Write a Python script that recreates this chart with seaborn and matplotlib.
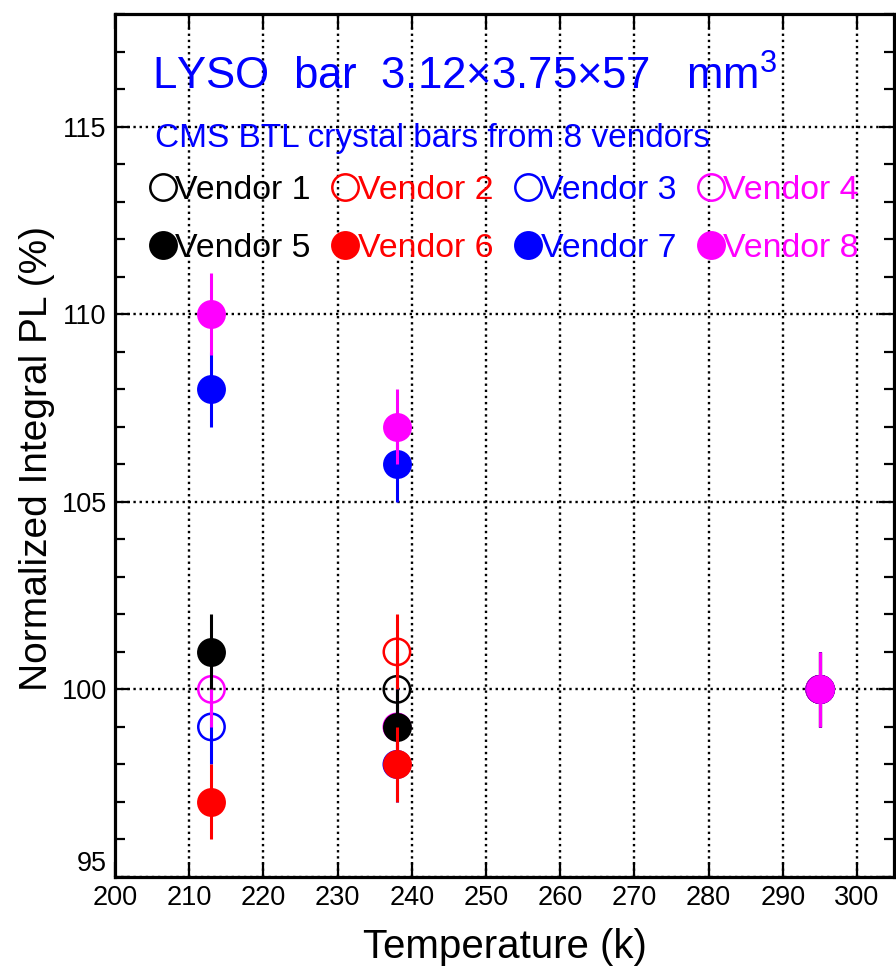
import numpy as np
import pandas as pd
import matplotlib
matplotlib.use("Agg")
import matplotlib.pyplot as plt
import seaborn as sns
from matplotlib.lines import Line2D
from matplotlib.ticker import MultipleLocator

# Measurement temperatures (K)
temperatures = [213, 238, 295]

# Normalized integral PL (%) for each vendor at each temperature
pl_vendor1 = [np.nan, 100, 100]
pl_vendor2 = [np.nan, 101, 100]
pl_vendor3 = [99, 98, 100]
pl_vendor4 = [100, 99, 100]
pl_vendor5 = [101, 99, 100]
pl_vendor6 = [97, 98, 100]
pl_vendor7 = [108, 106, 100]
pl_vendor8 = [110, 107, 100]

# Uncertainties (%)
err_vendor1 = [1, 1, 1]
err_vendor2 = [1, 1, 1]
err_vendor3 = [1, 1, 1]
err_vendor4 = [1, 1, 1]
err_vendor5 = [1, 1, 1]
err_vendor6 = [1, 1, 1]
err_vendor7 = [1, 1, 1]
err_vendor8 = [1.1, 1, 1]

vendor_names = ["Vendor 1", "Vendor 2", "Vendor 3", "Vendor 4",
                "Vendor 5", "Vendor 6", "Vendor 7", "Vendor 8"]
vendor_colors = ["black", "#ff0000", "#0000ff", "#ff00ff",
                 "black", "#ff0000", "#0000ff", "#ff00ff"]
vendor_filled = [False, False, False, False, True, True, True, True]

pl_values = [pl_vendor1, pl_vendor2, pl_vendor3, pl_vendor4,
             pl_vendor5, pl_vendor6, pl_vendor7, pl_vendor8]
pl_errors = [err_vendor1, err_vendor2, err_vendor3, err_vendor4,
             err_vendor5, err_vendor6, err_vendor7, err_vendor8]

rows = []
for name, vals, errs in zip(vendor_names, pl_values, pl_errors):
    for t, v, e in zip(temperatures, vals, errs):
        rows.append({"vendor": name, "T": t, "PL": v, "err": e})
df = pd.DataFrame(rows).dropna()

sns.set_style("ticks")
plt.rcParams["font.family"] = ["Liberation Sans", "DejaVu Sans"]
plt.rcParams["mathtext.fontset"] = "custom"
plt.rcParams["mathtext.rm"] = "Liberation Sans"
plt.rcParams["mathtext.it"] = "Liberation Sans"
plt.rcParams["text.color"] = "black"
plt.rcParams["axes.labelcolor"] = "black"
plt.rcParams["xtick.color"] = "black"
plt.rcParams["ytick.color"] = "black"

fig = plt.figure(figsize=(8.96, 9.67), dpi=100)
ax = fig.add_axes([115 / 896, 1 - 877 / 967, (894 - 115) / 896, (877 - 14) / 967])

marker_size = 19  # points (diameter)
for i, (name, color, filled) in enumerate(zip(vendor_names, vendor_colors, vendor_filled)):
    sub = df[df["vendor"] == name]
    ax.errorbar(sub["T"], sub["PL"], yerr=sub["err"], fmt="none",
                ecolor=color, elinewidth=2.2, capsize=0, zorder=3 + 2 * i)
    sns.scatterplot(data=sub, x="T", y="PL", ax=ax, marker="o",
                    s=marker_size ** 2, color=color, edgecolor=color,
                    linewidth=1.8, zorder=4 + 2 * i, legend=False)
    if not filled:
        ax.collections[-1].set_facecolor("none")

ax.set_xlim(200, 305)
ax.set_ylim(95, 118)
ax.xaxis.set_major_locator(MultipleLocator(10))
ax.set_yticks([95, 100, 105, 110, 115])
ax.yaxis.set_minor_locator(MultipleLocator(1))

ax.set_axisbelow(True)
ax.grid(True, which="major", color="black", linestyle=(0, (1, 1.6)), linewidth=1.7)

ax.tick_params(which="both", direction="in", top=True, right=True,
               width=1.6, labelsize=19.5, pad=6, colors="black")
ax.tick_params(which="major", length=11)
ax.tick_params(which="minor", length=7)
for side in ax.spines.values():
    side.set_linewidth(2.3)
    side.set_color("black")
ax.yaxis.get_major_ticks()[0].label1.set_verticalalignment("bottom")

ax.set_xlabel("Temperature (k)", fontsize=29, labelpad=12)
ax.set_ylabel("Normalized Integral PL (%)", fontsize=28)
ax.yaxis.set_label_coords(-0.077, 0.485)

ax.text(0.0475, 0.912, "LYSO  bar  3.12×3.75×57   mm$^3$", transform=ax.transAxes,
        fontsize=31.5, color="#0000ff", va="baseline", ha="left")
ax.text(0.051, 0.846, "CMS BTL crystal bars from 8 vendors", transform=ax.transAxes,
        fontsize=24, color="#0000ff", va="baseline", ha="left")

# Legend: open markers on the first row, filled on the second
handles = []
for name, color, filled in zip(vendor_names, vendor_colors, vendor_filled):
    handles.append(Line2D([], [], linestyle="none", marker="o", markersize=marker_size,
                          markeredgewidth=1.8, markeredgecolor=color,
                          markerfacecolor=color if filled else "none", label=name))
order = [0, 4, 1, 5, 2, 6, 3, 7]
leg = ax.legend([handles[k] for k in order], [vendor_names[k] for k in order],
                ncols=4, loc="upper left", bbox_to_anchor=(0.045, 0.814),
                frameon=False, fontsize=24.4, handlelength=0.75, handletextpad=0.0,
                columnspacing=0.64, borderpad=0, borderaxespad=0, labelspacing=0.8,
                labelcolor=[vendor_colors[k] for k in order])

fig.savefig("out.png", dpi=100)
